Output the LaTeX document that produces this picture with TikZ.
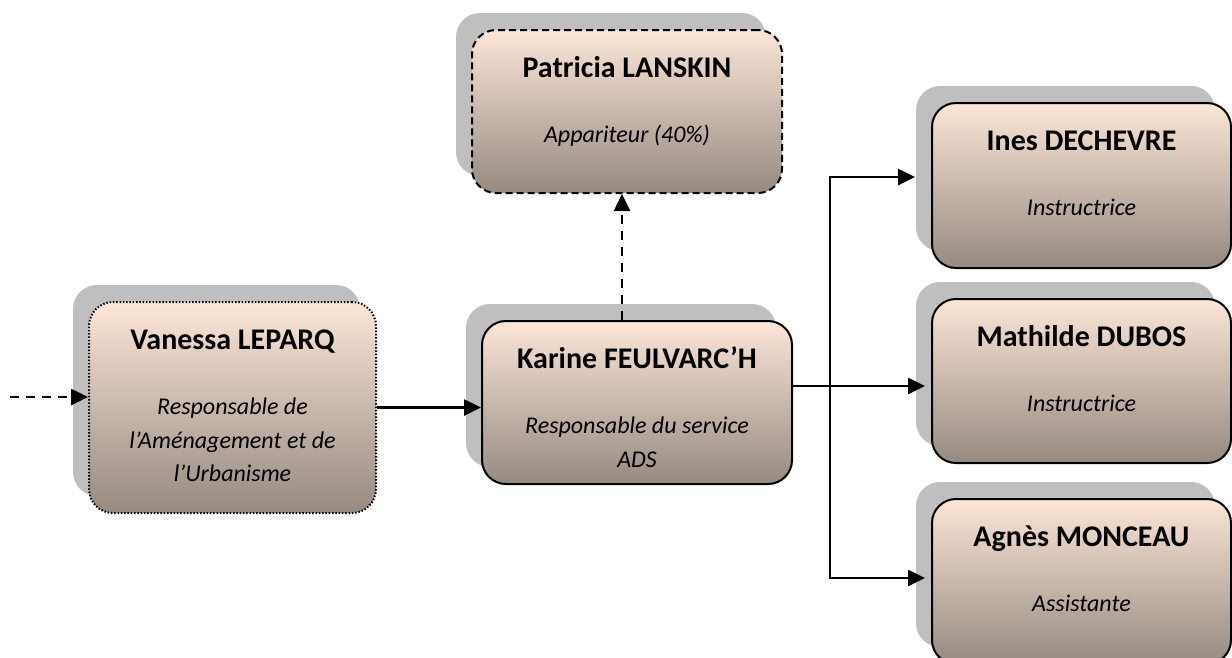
\documentclass[tikz,border=0pt]{standalone}
\usepackage{fontspec}
\setmainfont{Carlito}
\usetikzlibrary{arrows.meta,shadows,positioning}
\definecolor{cardtop}{RGB}{252,230,215}
\definecolor{cardmid}{RGB}{222,203,190}
\definecolor{cardbottom}{RGB}{149,138,129}
\definecolor{cardshadow}{RGB}{191,191,191}
\newcommand{\titlefont}{\fontsize{30}{33}\selectfont\bfseries\upshape}
\newcommand{\subfont}{\fontsize{24}{33.5}\selectfont\itshape}
\tikzset{
  card/.style={draw, line width=2pt, rounded corners=24pt,
    top color=cardtop, middle color=cardmid, bottom color=cardbottom,
    drop shadow={shadow xshift=-16pt, shadow yshift=17pt, opacity=1, fill=cardshadow}},
  cardtext/.style={anchor=north, inner sep=0pt, align=center, font=\subfont},
  link/.style={line width=2.6pt, -{Triangle[length=17pt,width=16pt]}},
  dashlink/.style={link, dash pattern=on 9pt off 7pt}
}
\begin{document}
\begin{tikzpicture}[x=1pt,y=-1pt]
\useasboundingbox (0,0) rectangle (1232,657);
% boxes
\node[card, dash pattern=on 1.5pt off 1.8pt, minimum width=287pt, minimum height=211pt] (vanessa) at (232.5,407.5) {};
\node[card, dash pattern=on 7pt off 4pt, minimum width=310pt, minimum height=163pt] (patricia) at (627,111.5) {};
\node[card, minimum width=310pt, minimum height=163pt] (karine) at (637,402.5) {};
\node[card, minimum width=299pt, minimum height=165pt] (ines) at (1081.5,185.5) {};
\node[card, minimum width=299pt, minimum height=164pt] (mathilde) at (1081.5,381) {};
\node[card, minimum width=299pt, minimum height=165pt] (agnes) at (1081.5,581.5) {};
% texts
\node[cardtext] (vanessa-txt) at ([yshift=-26pt]vanessa.north)
  {{\titlefont\rule{0pt}{22pt}Vanessa LEPARQ}\\[32pt]Responsable de\\l’Aménagement et de\\l’Urbanisme};
\node[cardtext] (patricia-txt) at ([yshift=-26pt]patricia.north)
  {{\titlefont\rule{0pt}{22pt}Patricia LANSKIN}\\[32pt]Appariteur (40\%)};
\node[cardtext] (karine-txt) at ([yshift=-26pt]karine.north)
  {{\titlefont\rule{0pt}{22pt}Karine FEULVARC’H}\\[32pt]Responsable du service\\ADS};
\node[cardtext] (ines-txt) at ([yshift=-26pt]ines.north)
  {{\titlefont\rule{0pt}{22pt}Ines DECHEVRE}\\[32pt]Instructrice};
\node[cardtext] (mathilde-txt) at ([yshift=-26pt]mathilde.north)
  {{\titlefont\rule{0pt}{22pt}Mathilde DUBOS}\\[32pt]Instructrice};
\node[cardtext] (agnes-txt) at ([yshift=-26pt]agnes.north)
  {{\titlefont\rule{0pt}{22pt}Agnès MONCEAU}\\[32pt]Assistante};
% links
\coordinate (entry) at (10,397);
\coordinate (fork) at (830,386);
\draw[dashlink] (entry) -- (entry -| vanessa.west);
\draw[link] (vanessa.east) -- (vanessa.east -| karine.west);
\draw[dashlink] ([xshift=-15pt]karine.north) -- ([xshift=-15pt]karine.north |- patricia.south);
\draw[line width=2.6pt] (fork -| karine.east) -- (fork);
\draw[link, shorten >=6pt] (fork) -- (fork -| mathilde.west);
\draw[link, shorten >=16pt] (fork) |- ([yshift=8.5pt]ines.west);
\draw[link, shorten >=6pt] (fork) |- ([yshift=3.5pt]agnes.west);
\end{tikzpicture}
\end{document}
